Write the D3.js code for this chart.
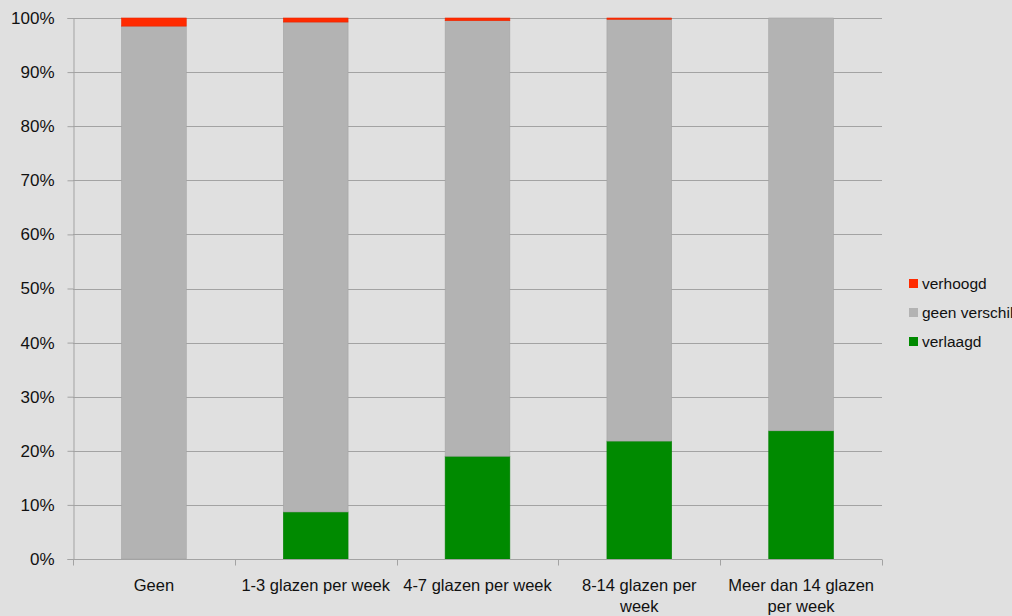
<!DOCTYPE html>
<html>
<head>
<meta charset="utf-8">
<script src="https://cdn.jsdelivr.net/npm/d3@7"></script>
<style>
  html, body { margin: 0; padding: 0; background: #e0e0e0; }
  svg { display: block; font-family: "Liberation Sans", Arial, sans-serif; }
</style>
</head>
<body>
<svg id="chart" width="1012" height="616"></svg>
<script>
// Drinking categories (label lines as they wrap under the axis)
const categories = ["Geen", "1-3 glazen per week", "4-7 glazen per week", "8-14 glazen per week", "Meer dan 14 glazen per week"];
const categoryLines = [
  ["Geen"],
  ["1-3 glazen per week"],
  ["4-7 glazen per week"],
  ["8-14 glazen per", "week"],
  ["Meer dan 14 glazen", "per week"]
];

// Share of respondents per category (percent)
const verlaagd = [0, 8.7, 19.0, 21.8, 23.7];
const geenVerschil = [98.5, 90.55, 80.5, 77.95, 76.3];
const verhoogd = [1.5, 0.75, 0.5, 0.25, 0];

const seriesNames = ["verlaagd", "geen verschil", "verhoogd"];
const seriesColors = { "verlaagd": "#008a00", "geen verschil": "#b3b3b3", "verhoogd": "#ff2a00" };
const yTicks = [0, 10, 20, 30, 40, 50, 60, 70, 80, 90, 100];

const rows = categories.map((c, i) => ({
  cat: c,
  "verlaagd": verlaagd[i],
  "geen verschil": geenVerschil[i],
  "verhoogd": verhoogd[i]
}));

const svg = d3.select("#chart");
const margin = { left: 73, top: 18 };
const plotW = 882 - margin.left;
const plotH = 559 - margin.top;

const x = d3.scaleBand().domain(categories).range([margin.left, margin.left + plotW]).paddingInner(0.6).paddingOuter(0.3);
const y = d3.scaleLinear().domain([0, 100]).range([margin.top + plotH, margin.top]);

// Horizontal gridlines
svg.append("g")
  .selectAll("line")
  .data(yTicks.filter(t => t > 0))
  .join("line")
  .attr("x1", margin.left).attr("x2", margin.left + plotW)
  .attr("y1", d => Math.round(y(d)) + 0.5).attr("y2", d => Math.round(y(d)) + 0.5)
  .attr("stroke", "#a3a3a3").attr("stroke-width", 1);

// Stacked bars
const stack = d3.stack().keys(seriesNames);
const layers = stack(rows);

const barG = svg.append("g");
layers.forEach(layer => {
  barG.append("g")
    .selectAll("rect")
    .data(layer.filter(d => d[1] - d[0] > 0))
    .join("rect")
    .attr("x", d => x(d.data.cat))
    .attr("width", x.bandwidth())
    .attr("y", d => y(d[1]))
    .attr("height", d => y(d[0]) - y(d[1]))
    .attr("fill", seriesColors[layer.key])
    .attr("stroke", d3.color(seriesColors[layer.key]).darker(0.25))
    .attr("stroke-width", 0.6);
});

// Y axis
const yAxis = svg.append("g")
  .attr("transform", `translate(${margin.left + 0.5},0)`)
  .call(d3.axisLeft(y).tickValues(yTicks).tickFormat(d => d + "%").tickSize(6).tickPadding(13));
yAxis.select(".domain").attr("stroke", "#a3a3a3");
yAxis.selectAll(".tick line").attr("stroke", "#a3a3a3");
yAxis.selectAll(".tick text").attr("font-size", 17).attr("fill", "#111");

// X axis with ticks at category boundaries
const xAxisG = svg.append("g").attr("transform", `translate(0,${Math.round(y(0)) + 0.5})`);
xAxisG.append("line")
  .attr("x1", margin.left).attr("x2", margin.left + plotW)
  .attr("stroke", "#a3a3a3");
const step = x.step();
xAxisG.selectAll("line.tick")
  .data(d3.range(categories.length + 1))
  .join("line")
  .attr("class", "tick")
  .attr("x1", i => Math.round(margin.left + i * step) + 0.5)
  .attr("x2", i => Math.round(margin.left + i * step) + 0.5)
  .attr("y1", 0).attr("y2", 6)
  .attr("stroke", "#a3a3a3");

const labelG = svg.append("g");
categories.forEach((c, i) => {
  const cx = x(c) + x.bandwidth() / 2;
  const t = labelG.append("text")
    .attr("x", cx).attr("y", 591)
    .attr("text-anchor", "middle")
    .attr("font-size", 16.5)
    .attr("fill", "#111");
  categoryLines[i].forEach((line, j) => {
    t.append("tspan").attr("x", cx).attr("dy", j === 0 ? 0 : 21).text(line);
  });
});

// Legend
const legendOrder = ["verhoogd", "geen verschil", "verlaagd"];
const legend = svg.append("g").attr("transform", "translate(909,284)");
legendOrder.forEach((name, i) => {
  const g = legend.append("g").attr("transform", `translate(0,${i * 29})`);
  g.append("rect").attr("x", 0).attr("y", -5).attr("width", 9).attr("height", 9).attr("fill", seriesColors[name]);
  g.append("text").attr("x", 13).attr("y", 5).attr("font-size", 15.5).attr("fill", "#111").text(name);
});
</script>
</body>
</html>
